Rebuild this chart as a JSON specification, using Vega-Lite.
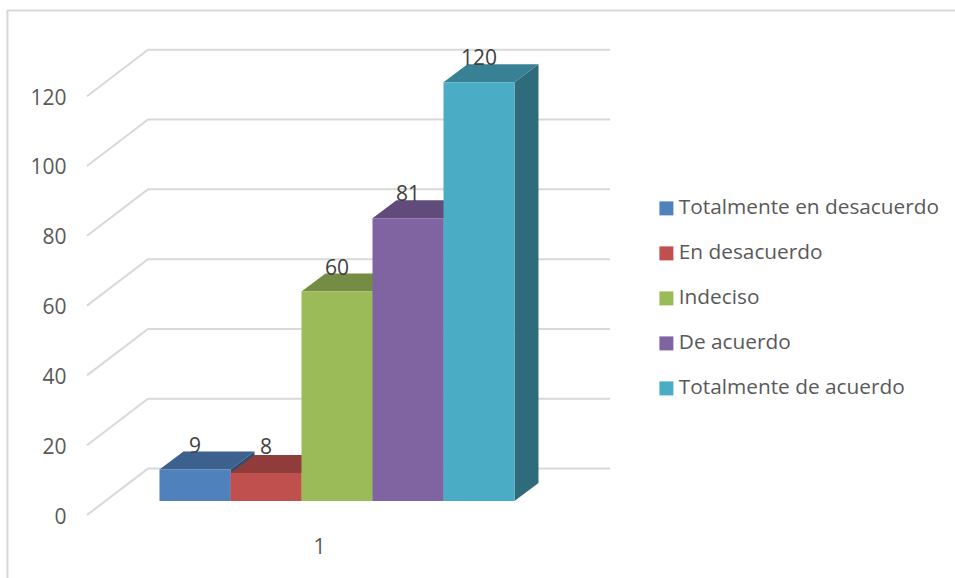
{"$schema":"https://vega.github.io/schema/vega-lite/v6.json","width":955,"height":578,"padding":0,"autosize":{"type":"none"},"background":"white","config":{"view":{"stroke":null},"font":"Open Sans"},
"datasets":{
"bars":[{"serie":"Totalmente en desacuerdo","valor":9,"x":0,"x2":1,"base":0,"labelX":0.5,"labelY":15.6},{"serie":"En desacuerdo","valor":8,"x":1,"x2":2,"base":0,"labelX":1.5,"labelY":15.1},{"serie":"Indeciso","valor":60,"x":2,"x2":3,"base":0,"labelX":2.5,"labelY":66.6},{"serie":"De acuerdo","valor":81,"x":3,"x2":4,"base":0,"labelX":3.5,"labelY":87.8},{"serie":"Totalmente de acuerdo","valor":120,"x":4,"x2":5,"base":0,"labelX":4.5,"labelY":126.6}],
"top":[{"serie":"Totalmente en desacuerdo","x":0,"x2":1,"y":9},{"serie":"Totalmente en desacuerdo","x":0.338,"x2":1.338,"y":14.16},{"serie":"En desacuerdo","x":1,"x2":2,"y":8},{"serie":"En desacuerdo","x":1.338,"x2":2.338,"y":13.16},{"serie":"Indeciso","x":2,"x2":3,"y":60},{"serie":"Indeciso","x":2.338,"x2":3.338,"y":65.16},{"serie":"De acuerdo","x":3,"x2":4,"y":81},{"serie":"De acuerdo","x":3.338,"x2":4.338,"y":86.16},{"serie":"Totalmente de acuerdo","x":4,"x2":5,"y":120},{"serie":"Totalmente de acuerdo","x":4.338,"x2":5.338,"y":125.16}],
"side":[{"serie":"Totalmente en desacuerdo","x":1,"y":9,"y2":0},{"serie":"Totalmente en desacuerdo","x":1.338,"y":14.16,"y2":5.16},{"serie":"En desacuerdo","x":2,"y":8,"y2":0},{"serie":"En desacuerdo","x":2.338,"y":13.16,"y2":5.16},{"serie":"Indeciso","x":3,"y":60,"y2":0},{"serie":"Indeciso","x":3.338,"y":65.16,"y2":5.16},{"serie":"De acuerdo","x":4,"y":81,"y2":0},{"serie":"De acuerdo","x":4.338,"y":86.16,"y2":5.16},{"serie":"Totalmente de acuerdo","x":5,"y":120,"y2":0},{"serie":"Totalmente de acuerdo","x":5.338,"y":125.16,"y2":5.16}],
"grid":[{"g":"frame","x":-2.141,"y":-18.05},{"g":"frame","x":-2.141,"y":144.56},{"g":"frame","x":11.204,"y":144.56},
{"g":"0","x":-1.021,"y":0},{"g":"0","x":-0.162,"y":13.3},{"g":"0","x":6.345,"y":13.3},
{"g":"20","x":-1.021,"y":20},{"g":"20","x":-0.162,"y":33.3},{"g":"20","x":6.345,"y":33.3},
{"g":"40","x":-1.021,"y":40},{"g":"40","x":-0.162,"y":53.3},{"g":"40","x":6.345,"y":53.3},
{"g":"60","x":-1.021,"y":60},{"g":"60","x":-0.162,"y":73.3},{"g":"60","x":6.345,"y":73.3},
{"g":"80","x":-1.021,"y":80},{"g":"80","x":-0.162,"y":93.3},{"g":"80","x":6.345,"y":93.3},
{"g":"100","x":-1.021,"y":100},{"g":"100","x":-0.162,"y":113.3},{"g":"100","x":6.345,"y":113.3},
{"g":"120","x":-1.021,"y":120},{"g":"120","x":-0.162,"y":133.3},{"g":"120","x":6.345,"y":133.3}]
},
"layer":[
{"data":{"name":"grid"},"mark":{"type":"line","stroke":"#D9D9D9","strokeWidth":2},
"encoding":{"detail":{"field":"g"},"order":{"field":"x","type":"quantitative"},
"x":{"field":"x","type":"quantitative","scale":{"domain":[-2.246,11.204],"nice":false,"zero":false},"axis":{"values":[2.246],"labelExpr":"'1'","title":null,"domain":false,"ticks":false,"grid":false,"offset":-42,"labelPadding":0,"labelFontSize":21,"labelColor":"#595959","labelFont":"Open Sans"}},
"y":{"field":"y","type":"quantitative","scale":{"domain":[-18.05,147.56],"nice":false,"zero":false},"axis":{"values":[0,20,40,60,80,100,120],"title":null,"domain":false,"ticks":false,"grid":false,"offset":-72,"labelPadding":6,"labelOffset":2,"labelFontSize":21,"labelColor":"#595959","labelFont":"Open Sans"}}}},
{"data":{"name":"side"},"mark":{"type":"area"},
"encoding":{"x":{"field":"x","type":"quantitative"},"y":{"field":"y","type":"quantitative","stack":null,"scale":{"domain":[-22.06,143.55],"nice":false,"zero":false},"axis":null},"y2":{"field":"y2"},
"color":{"field":"serie","type":"nominal","legend":null,"scale":{"domain":["Totalmente en desacuerdo","En desacuerdo","Indeciso","De acuerdo","Totalmente de acuerdo"],"range":["#2F4D71","#733030","#5D7036","#4D3C61","#2E6B7B"]}}}},
{"data":{"name":"top"},"mark":{"type":"area","orient":"horizontal"},
"encoding":{"x":{"field":"x","type":"quantitative"},"x2":{"field":"x2"},"y":{"field":"y","type":"quantitative","scale":{"domain":[-22.06,143.55],"nice":false,"zero":false},"axis":null},
"color":{"field":"serie","type":"nominal","legend":null,"scale":{"domain":["Totalmente en desacuerdo","En desacuerdo","Indeciso","De acuerdo","Totalmente de acuerdo"],"range":["#3C618E","#903C3A","#748C43","#604B7A","#388195"]}}}},
{"data":{"name":"bars"},"mark":{"type":"rect"},
"encoding":{"x":{"field":"x","type":"quantitative"},"x2":{"field":"x2"},"y":{"field":"valor","type":"quantitative","scale":{"domain":[-22.06,143.55],"nice":false,"zero":false},"axis":null},"y2":{"field":"base"},
"color":{"field":"serie","type":"nominal","scale":{"domain":["Totalmente en desacuerdo","En desacuerdo","Indeciso","De acuerdo","Totalmente de acuerdo"],"range":["#4F81BD","#C0504D","#9BBB59","#8064A2","#4BACC6"]},
"legend":{"title":null,"orient":"none","legendX":656,"legendY":198,"symbolType":"square","symbolSize":196,"symbolStrokeWidth":0,"labelFontSize":20.8,"labelColor":"#595959","labelFont":"Open Sans","labelLimit":320,"rowPadding":23,"labelOffset":2}}}},
{"data":{"name":"bars"},"mark":{"type":"text","fontSize":21,"color":"#404040","font":"Open Sans","baseline":"middle"},
"encoding":{"x":{"field":"labelX","type":"quantitative"},"y":{"field":"labelY","type":"quantitative","scale":{"domain":[-22.06,143.55],"nice":false,"zero":false},"axis":null},"text":{"field":"valor","type":"quantitative"}}}
],
"resolve":{"scale":{"y":"independent","color":"independent"},"axis":{"y":"independent"}}}
